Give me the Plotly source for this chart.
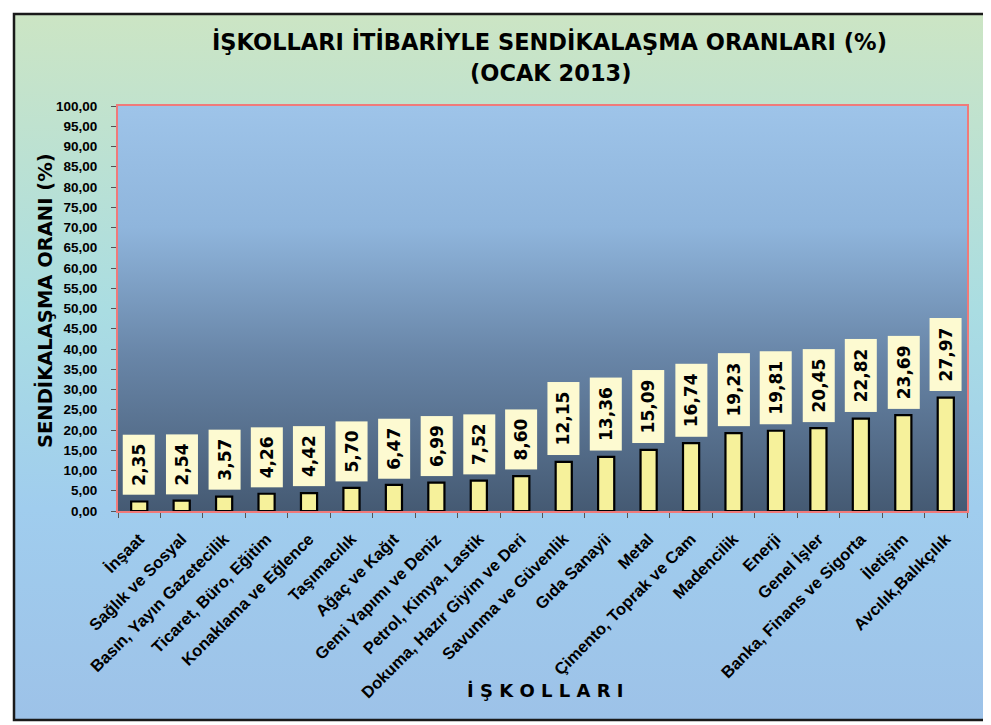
import base64
import plotly.graph_objects as go

# ---- data ----
categories = ["İnşaat", "Sağlık ve Sosyal", "Basın, Yayın Gazetecilik", "Ticaret, Büro, Eğitim",
              "Konaklama ve Eğlence", "Taşımacılık", "Ağaç ve Kağıt", "Gemi Yapımı ve Deniz",
              "Petrol, Kimya, Lastik", "Dokuma, Hazır Giyim ve Deri", "Savunma ve Güvenlik",
              "Gıda Sanayii", "Metal", "Çimento, Toprak ve Cam", "Madencilik", "Enerji",
              "Genel İşler", "Banka, Finans ve Sigorta", "İletişim", "Avcılık,Balıkçılık"]
values = [2.35, 2.54, 3.57, 4.26, 4.42, 5.70, 6.47, 6.99, 7.52, 8.60,
          12.15, 13.36, 15.09, 16.74, 19.23, 19.81, 20.45, 22.82, 23.69, 27.97]
y_ticks = list(range(0, 101, 5))
title_line1 = "İŞKOLLARI İTİBARİYLE SENDİKALAŞMA ORANLARI (%)"
title_line2 = "(OCAK 2013)"
y_title = "SENDİKALAŞMA ORANI (%)"
x_title = "İ Ş K O L L A R I"

# ---- layout geometry (page pixels; the page body adds an 8px offset) ----
OFF = 8
W, H = 991, 725
ML, MT = 118 - OFF, 106 - OFF
MR, MB = W - (967 - OFF), H - (511 - OFF)
PW, PH = W - ML - MR, H - MT - MB

def px_x(p):
    return (p - OFF - ML) / PW

def px_y(p):
    return 1 - (p - OFF - MT) / PH

def svg_uri(stops):
    st = "".join(f'<stop offset="{o}" stop-color="{c}"/>' for o, c in stops)
    svg = ('<svg xmlns="http://www.w3.org/2000/svg" width="100" height="100" viewBox="0 0 100 100" '
           'preserveAspectRatio="none"><defs><linearGradient id="g" x1="0" y1="0" x2="0" y2="1">'
           + st + '</linearGradient></defs><rect width="100" height="100" fill="url(#g)"/></svg>')
    return "data:image/svg+xml;base64," + base64.b64encode(svg.encode()).decode()

paper_grad = svg_uri([(0, "#cce5c4"), (0.42, "#aadde2"), (0.7, "#a0cdee"), (1, "#9dc2e8")])
plot_grad = svg_uri([(0, "#9ec4e9"), (0.3, "#8fb5dc"), (0.62, "#6885a7"), (1, "#455a73")])

HEAVY = "DejaVu Sans"

fig = go.Figure()
fig.add_trace(go.Bar(
    x=categories, y=values, width=0.38,
    marker=dict(color="#f6f19b", line=dict(color="#000000", width=2.2)),
    hoverinfo="x+y", showlegend=False,
))

label_font = dict(family=HEAVY, size=17, color="#000000", weight="bold")
for c, v in zip(categories, values):
    txt = f"{v:.2f}".replace(".", ",")
    ndig = len(txt) - 1
    fig.add_annotation(
        x=c, y=v, xref="x", yref="y", text=txt, showarrow=False,
        textangle=-90, font=label_font, bgcolor="#fdfad1",
        width=13 * ndig + 20, height=31, borderpad=0,
        xanchor="center", yanchor="bottom", yshift=6,
    )

title_font = dict(family=HEAVY, size=22.5, color="#000000", weight="bold")
fig.add_annotation(x=px_x(549), y=px_y(42), xref="paper", yref="paper", text=title_line1,
                   showarrow=False, font=title_font, xanchor="center", yanchor="middle")
fig.add_annotation(x=px_x(551), y=px_y(73), xref="paper", yref="paper", text=title_line2,
                   showarrow=False, font=title_font, xanchor="center", yanchor="middle")
fig.add_annotation(x=px_x(545), y=px_y(690), xref="paper", yref="paper", text=x_title,
                   showarrow=False,
                   font=dict(family=HEAVY, size=18, color="#000000", weight="bold"),
                   xanchor="center", yanchor="middle")
fig.add_annotation(x=px_x(45), y=px_y(301), xref="paper", yref="paper", text=y_title,
                   showarrow=False, textangle=-90,
                   font=dict(family=HEAVY, size=19.5, color="#000000", weight="bold"),
                   xanchor="center", yanchor="middle")

fig.update_layout(
    width=W, height=H,
    margin=dict(l=ML, r=MR, t=MT, b=MB, pad=0),
    paper_bgcolor="#ffffff", plot_bgcolor="rgba(0,0,0,0)",
    separators=",.",
    xaxis=dict(
        type="category", tickangle=-45, tickson="boundaries", ticks="outside", ticklen=5,
        tickcolor="#555555", showline=True, linecolor="#f07a7a", linewidth=2, mirror=True,
        showgrid=False, ticklabelstandoff=10,
        tickfont=dict(family="Liberation Sans", size=16.5, color="#000000", weight="bold"),
    ),
    yaxis=dict(
        range=[0, 100], tickvals=y_ticks, tickformat=".2f", ticks="outside", ticklen=5,
        tickcolor="#555555", showline=True, linecolor="#f07a7a", linewidth=2, mirror=True,
        showgrid=False, zeroline=False, ticklabelstandoff=11,
        tickfont=dict(family="Liberation Sans", size=13.5, color="#000000", weight="bold"),
    ),
    images=[
        dict(source=paper_grad, xref="paper", yref="paper", x=px_x(14), y=px_y(14),
             sizex=(988 - 14) / PW, sizey=(720 - 14) / PH, sizing="stretch",
             xanchor="left", yanchor="top", layer="below"),
        dict(source=plot_grad, xref="paper", yref="paper", x=0, y=1, sizex=1, sizey=1,
             sizing="stretch", xanchor="left", yanchor="top", layer="below"),
    ],
    shapes=[
        dict(type="rect", xref="paper", yref="paper", x0=px_x(14), x1=px_x(988),
             y0=px_y(14), y1=px_y(720), line=dict(color="#1a1a1a", width=2.5), layer="above"),
    ],
)

fig.write_html("out.html")
